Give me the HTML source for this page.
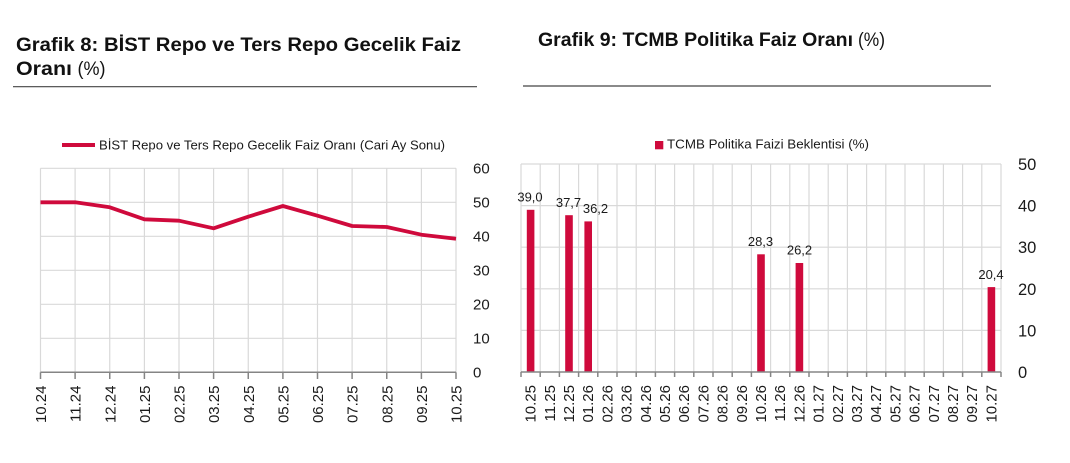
<!DOCTYPE html>
<html><head><meta charset="utf-8">
<style>
html,body{margin:0;padding:0;background:#fff;}
svg{display:block;}
text{font-family:"Liberation Sans",Arial,sans-serif;}
</style></head>
<body>
<svg width="1070" height="463" viewBox="0 0 1070 463" xmlns="http://www.w3.org/2000/svg">
<rect width="1070" height="463" fill="#fff"/>

<!-- Titles -->
<text x="16" y="51" font-size="19" font-weight="bold" fill="#111" textLength="445" lengthAdjust="spacingAndGlyphs">Grafik 8:  BİST Repo ve Ters Repo Gecelik Faiz</text>
<text x="16" y="75" font-size="19" font-weight="bold" fill="#111" textLength="56" lengthAdjust="spacingAndGlyphs">Oranı</text>
<text x="77.5" y="75" font-size="19" fill="#111" textLength="28" lengthAdjust="spacingAndGlyphs">(%)</text>
<line x1="13" y1="86.7" x2="477" y2="86.7" stroke="#444" stroke-width="1.2"/>

<text x="538" y="46" font-size="19" font-weight="bold" fill="#111" textLength="315" lengthAdjust="spacingAndGlyphs">Grafik 9: TCMB Politika Faiz Oranı</text>
<text x="858" y="46" font-size="19" fill="#111" textLength="27" lengthAdjust="spacingAndGlyphs">(%)</text>
<line x1="523" y1="86" x2="991" y2="86" stroke="#444" stroke-width="1.2"/>

<!-- Left legend -->
<line x1="62" y1="145" x2="95" y2="145" stroke="#cf0a3c" stroke-width="4"/>
<text x="99" y="149.5" font-size="13" fill="#1a1a1a" textLength="346" lengthAdjust="spacingAndGlyphs">BİST Repo ve Ters Repo Gecelik Faiz Oranı (Cari Ay Sonu)</text>

<!-- Left chart grid -->
<g stroke="#d9d9d9" stroke-width="1.2">
<line x1="40.5" y1="168.3" x2="456" y2="168.3"/>
<line x1="40.5" y1="202.3" x2="456" y2="202.3"/>
<line x1="40.5" y1="236.3" x2="456" y2="236.3"/>
<line x1="40.5" y1="270.3" x2="456" y2="270.3"/>
<line x1="40.5" y1="304.3" x2="456" y2="304.3"/>
<line x1="40.5" y1="338.3" x2="456" y2="338.3"/>
<line x1="40.5" y1="168.3" x2="40.5" y2="372.3"/>
<line x1="75.1" y1="168.3" x2="75.1" y2="372.3"/>
<line x1="109.75" y1="168.3" x2="109.75" y2="372.3"/>
<line x1="144.4" y1="168.3" x2="144.4" y2="372.3"/>
<line x1="179" y1="168.3" x2="179" y2="372.3"/>
<line x1="213.6" y1="168.3" x2="213.6" y2="372.3"/>
<line x1="248.25" y1="168.3" x2="248.25" y2="372.3"/>
<line x1="282.9" y1="168.3" x2="282.9" y2="372.3"/>
<line x1="317.5" y1="168.3" x2="317.5" y2="372.3"/>
<line x1="352.1" y1="168.3" x2="352.1" y2="372.3"/>
<line x1="386.75" y1="168.3" x2="386.75" y2="372.3"/>
<line x1="421.4" y1="168.3" x2="421.4" y2="372.3"/>
<line x1="456" y1="168.3" x2="456" y2="372.3"/>
</g>
<g stroke="#858585" stroke-width="1.5">
<line x1="40.5" y1="372.3" x2="456" y2="372.3"/>
<line x1="40.5" y1="372.3" x2="40.5" y2="379"/>
<line x1="75.1" y1="372.3" x2="75.1" y2="379"/>
<line x1="109.75" y1="372.3" x2="109.75" y2="379"/>
<line x1="144.4" y1="372.3" x2="144.4" y2="379"/>
<line x1="179" y1="372.3" x2="179" y2="379"/>
<line x1="213.6" y1="372.3" x2="213.6" y2="379"/>
<line x1="248.25" y1="372.3" x2="248.25" y2="379"/>
<line x1="282.9" y1="372.3" x2="282.9" y2="379"/>
<line x1="317.5" y1="372.3" x2="317.5" y2="379"/>
<line x1="352.1" y1="372.3" x2="352.1" y2="379"/>
<line x1="386.75" y1="372.3" x2="386.75" y2="379"/>
<line x1="421.4" y1="372.3" x2="421.4" y2="379"/>
<line x1="456" y1="372.3" x2="456" y2="379"/>
</g>
<!-- Left line series -->
<polyline fill="none" stroke="#cf0a3c" stroke-width="3.8" stroke-linejoin="round"
 points="40.5,202.3 75.1,202.3 109.75,207.3 144.4,219.3 179,220.7 213.6,228.3 248.25,216.7 282.9,206 317.5,215.7 352.1,226 386.75,227 421.4,234.7 456,238.7"/>
<!-- Left y labels -->
<g font-size="15" fill="#1a1a1a">
<text x="473" y="173.5">60</text>
<text x="473" y="207.5">50</text>
<text x="473" y="241.5">40</text>
<text x="473" y="275.5">30</text>
<text x="473" y="309.5">20</text>
<text x="473" y="343.5">10</text>
<text x="473" y="377.5">0</text>
</g>
<!-- Left x labels -->
<g font-size="15" fill="#1a1a1a" text-anchor="end">
<text transform="translate(46,385.5) rotate(-90)">10.24</text>
<text transform="translate(80.6,385.5) rotate(-90)">11.24</text>
<text transform="translate(115.25,385.5) rotate(-90)">12.24</text>
<text transform="translate(149.9,385.5) rotate(-90)">01.25</text>
<text transform="translate(184.5,385.5) rotate(-90)">02.25</text>
<text transform="translate(219.1,385.5) rotate(-90)">03.25</text>
<text transform="translate(253.75,385.5) rotate(-90)">04.25</text>
<text transform="translate(288.4,385.5) rotate(-90)">05.25</text>
<text transform="translate(323,385.5) rotate(-90)">06.25</text>
<text transform="translate(357.6,385.5) rotate(-90)">07.25</text>
<text transform="translate(392.25,385.5) rotate(-90)">08.25</text>
<text transform="translate(426.9,385.5) rotate(-90)">09.25</text>
<text transform="translate(461.5,385.5) rotate(-90)">10.25</text>
</g>

<!-- Right legend -->
<rect x="655" y="141" width="8.3" height="8.3" fill="#cf0a3c"/>
<text x="667" y="148.5" font-size="13" fill="#1a1a1a" textLength="202" lengthAdjust="spacingAndGlyphs">TCMB Politika Faizi Beklentisi (%)</text>

<!-- Right chart grid -->
<g stroke="#d9d9d9" stroke-width="1.2">
<line x1="521" y1="164" x2="1001" y2="164"/>
<line x1="521" y1="205.6" x2="1001" y2="205.6"/>
<line x1="521" y1="247.2" x2="1001" y2="247.2"/>
<line x1="521" y1="288.8" x2="1001" y2="288.8"/>
<line x1="521" y1="330.4" x2="1001" y2="330.4"/>
<line x1="521" y1="164" x2="521" y2="372"/>
<line x1="540.2" y1="164" x2="540.2" y2="372"/>
<line x1="559.4" y1="164" x2="559.4" y2="372"/>
<line x1="578.6" y1="164" x2="578.6" y2="372"/>
<line x1="597.8" y1="164" x2="597.8" y2="372"/>
<line x1="617" y1="164" x2="617" y2="372"/>
<line x1="636.2" y1="164" x2="636.2" y2="372"/>
<line x1="655.4" y1="164" x2="655.4" y2="372"/>
<line x1="674.6" y1="164" x2="674.6" y2="372"/>
<line x1="693.8" y1="164" x2="693.8" y2="372"/>
<line x1="713" y1="164" x2="713" y2="372"/>
<line x1="732.2" y1="164" x2="732.2" y2="372"/>
<line x1="751.4" y1="164" x2="751.4" y2="372"/>
<line x1="770.6" y1="164" x2="770.6" y2="372"/>
<line x1="789.8" y1="164" x2="789.8" y2="372"/>
<line x1="809" y1="164" x2="809" y2="372"/>
<line x1="828.2" y1="164" x2="828.2" y2="372"/>
<line x1="847.4" y1="164" x2="847.4" y2="372"/>
<line x1="866.6" y1="164" x2="866.6" y2="372"/>
<line x1="885.8" y1="164" x2="885.8" y2="372"/>
<line x1="905" y1="164" x2="905" y2="372"/>
<line x1="924.2" y1="164" x2="924.2" y2="372"/>
<line x1="943.4" y1="164" x2="943.4" y2="372"/>
<line x1="962.6" y1="164" x2="962.6" y2="372"/>
<line x1="981.8" y1="164" x2="981.8" y2="372"/>
<line x1="1001" y1="164" x2="1001" y2="372"/>
</g>
<!-- Bars -->
<g fill="#cf0a3c">
<rect x="526.8" y="209.8" width="7.6" height="162.2"/>
<rect x="565.2" y="215.2" width="7.6" height="156.8"/>
<rect x="584.4" y="221.4" width="7.6" height="150.6"/>
<rect x="757.2" y="254.3" width="7.6" height="117.7"/>
<rect x="795.6" y="263" width="7.6" height="109"/>
<rect x="987.6" y="287.1" width="7.6" height="84.9"/>
</g>
<g stroke="#858585" stroke-width="1.5">
<line x1="521" y1="372" x2="1001" y2="372"/>
<line x1="521" y1="372" x2="521" y2="377"/>
<line x1="540.2" y1="372" x2="540.2" y2="377"/>
<line x1="559.4" y1="372" x2="559.4" y2="377"/>
<line x1="578.6" y1="372" x2="578.6" y2="377"/>
<line x1="597.8" y1="372" x2="597.8" y2="377"/>
<line x1="617" y1="372" x2="617" y2="377"/>
<line x1="636.2" y1="372" x2="636.2" y2="377"/>
<line x1="655.4" y1="372" x2="655.4" y2="377"/>
<line x1="674.6" y1="372" x2="674.6" y2="377"/>
<line x1="693.8" y1="372" x2="693.8" y2="377"/>
<line x1="713" y1="372" x2="713" y2="377"/>
<line x1="732.2" y1="372" x2="732.2" y2="377"/>
<line x1="751.4" y1="372" x2="751.4" y2="377"/>
<line x1="770.6" y1="372" x2="770.6" y2="377"/>
<line x1="789.8" y1="372" x2="789.8" y2="377"/>
<line x1="809" y1="372" x2="809" y2="377"/>
<line x1="828.2" y1="372" x2="828.2" y2="377"/>
<line x1="847.4" y1="372" x2="847.4" y2="377"/>
<line x1="866.6" y1="372" x2="866.6" y2="377"/>
<line x1="885.8" y1="372" x2="885.8" y2="377"/>
<line x1="905" y1="372" x2="905" y2="377"/>
<line x1="924.2" y1="372" x2="924.2" y2="377"/>
<line x1="943.4" y1="372" x2="943.4" y2="377"/>
<line x1="962.6" y1="372" x2="962.6" y2="377"/>
<line x1="981.8" y1="372" x2="981.8" y2="377"/>
<line x1="1001" y1="372" x2="1001" y2="377"/>
</g>
<!-- Data labels -->
<g font-size="13" fill="#1a1a1a" text-anchor="middle">
<text x="530" y="201.5">39,0</text>
<text x="568.5" y="207">37,7</text>
<text x="595.5" y="213">36,2</text>
<text x="760.5" y="246">28,3</text>
<text x="799.5" y="254.5">26,2</text>
<text x="991" y="279">20,4</text>
</g>
<!-- Right y labels -->
<g font-size="16.5" fill="#1a1a1a">
<text x="1018" y="170">50</text>
<text x="1018" y="211.6">40</text>
<text x="1018" y="253.2">30</text>
<text x="1018" y="294.8">20</text>
<text x="1018" y="336.4">10</text>
<text x="1018" y="378">0</text>
</g>
<!-- Right x labels -->
<g font-size="15" fill="#1a1a1a" text-anchor="end">
<text transform="translate(535.6,385) rotate(-90)">10.25</text>
<text transform="translate(554.8,385) rotate(-90)">11.25</text>
<text transform="translate(574,385) rotate(-90)">12.25</text>
<text transform="translate(593.2,385) rotate(-90)">01.26</text>
<text transform="translate(612.4,385) rotate(-90)">02.26</text>
<text transform="translate(631.6,385) rotate(-90)">03.26</text>
<text transform="translate(650.8,385) rotate(-90)">04.26</text>
<text transform="translate(670,385) rotate(-90)">05.26</text>
<text transform="translate(689.2,385) rotate(-90)">06.26</text>
<text transform="translate(708.4,385) rotate(-90)">07.26</text>
<text transform="translate(727.6,385) rotate(-90)">08.26</text>
<text transform="translate(746.8,385) rotate(-90)">09.26</text>
<text transform="translate(766,385) rotate(-90)">10.26</text>
<text transform="translate(785.2,385) rotate(-90)">11.26</text>
<text transform="translate(804.4,385) rotate(-90)">12.26</text>
<text transform="translate(823.6,385) rotate(-90)">01.27</text>
<text transform="translate(842.8,385) rotate(-90)">02.27</text>
<text transform="translate(862,385) rotate(-90)">03.27</text>
<text transform="translate(881.2,385) rotate(-90)">04.27</text>
<text transform="translate(900.4,385) rotate(-90)">05.27</text>
<text transform="translate(919.6,385) rotate(-90)">06.27</text>
<text transform="translate(938.8,385) rotate(-90)">07.27</text>
<text transform="translate(958,385) rotate(-90)">08.27</text>
<text transform="translate(977.2,385) rotate(-90)">09.27</text>
<text transform="translate(996.4,385) rotate(-90)">10.27</text>
</g>
</svg>
</body></html>
